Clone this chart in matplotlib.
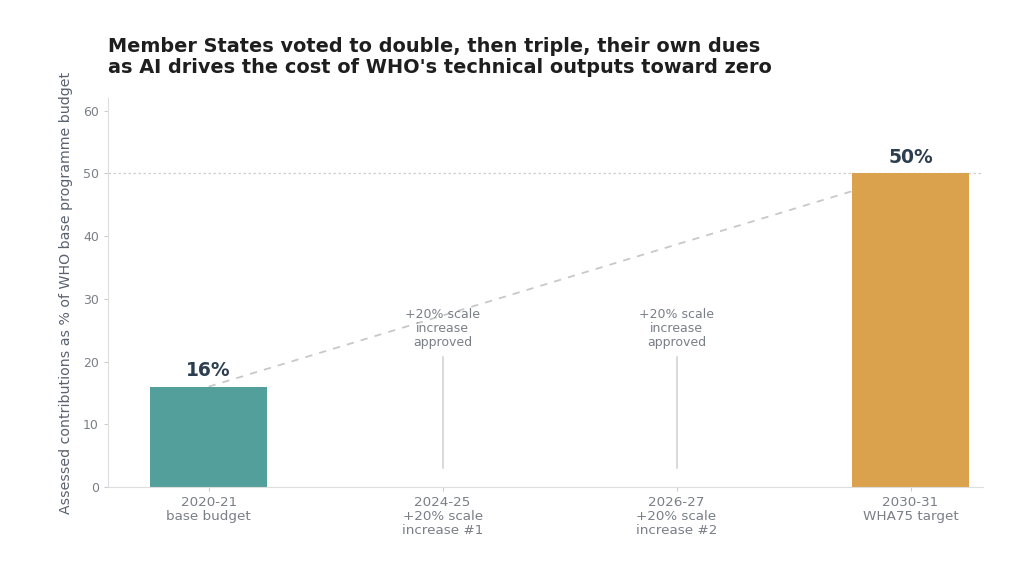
import matplotlib
matplotlib.use("Agg")
from matplotlib import pyplot as plt
import numpy as np

# data
periods = ["2020-21\nbase budget", "2024-25\n+20% scale\nincrease #1",
           "2026-27\n+20% scale\nincrease #2", "2030-31\nWHA75 target"]
bar_idx = [0, 3]
bar_vals = [16, 50]
bar_labels = ["16%", "50%"]
step_idx = [1, 2]
step_note = "+20% scale\nincrease\napproved"
target = 50

teal = "#529f9b"
gold = "#dba24e"
navy = "#2d3e50"
grey = "#7a7f87"

fig = plt.figure(figsize=(10.24, 5.74), dpi=100)
ax = fig.add_axes([0.1055, 0.1516, 0.8545, 0.6774])

# trend line behind the bars
ax.plot([bar_idx[0], bar_idx[1]], [bar_vals[0], bar_vals[1]], ls=(0, (4, 4)),
        color="#c8c8c8", lw=1.3, zorder=1)
ax.axhline(target, color="#cfcfcf", lw=0.9, ls=(0, (2, 2)), zorder=1)

ax.bar(bar_idx, bar_vals, width=0.5, color=[teal, gold], zorder=2)
for i, v, t in zip(bar_idx, bar_vals, bar_labels):
    ax.text(i, v + 1.0, t, ha="center", va="bottom", fontsize=13.5,
            fontweight="bold", color=navy)

for i in step_idx:
    ax.plot([i, i], [3, 20.8], color="#d0d0d0", lw=1.1, zorder=1)
    ax.text(i, 25.2, step_note, ha="center", va="center", fontsize=9,
            color=grey, linespacing=1.1)

ax.set_xlim(-0.43, 3.31)
ax.set_ylim(0, 62)
ax.set_yticks(np.arange(0, 61, 10))
ax.set_xticks(range(len(periods)))
ax.set_xticklabels(periods, fontsize=9.7, color=grey, linespacing=1.1)
ax.tick_params(axis="y", labelsize=9, labelcolor=grey, color="#cccccc", length=3)
ax.tick_params(axis="x", color="#cccccc", length=3)
for s in ["top", "right"]:
    ax.spines[s].set_visible(False)
for s in ["left", "bottom"]:
    ax.spines[s].set_color("#dddddd")
ax.set_ylabel("Assessed contributions as % of WHO base programme budget",
              fontsize=10.2, color="#5a6270", labelpad=7)

fig.text(0.1055, 0.935, "Member States voted to double, then triple, their own dues\n"
         "as AI drives the cost of WHO's technical outputs toward zero",
         ha="left", va="top", fontsize=13.9, fontweight="bold", color="#1e1e1e",
         linespacing=1.1)

fig.savefig("out.png", dpi=100)
